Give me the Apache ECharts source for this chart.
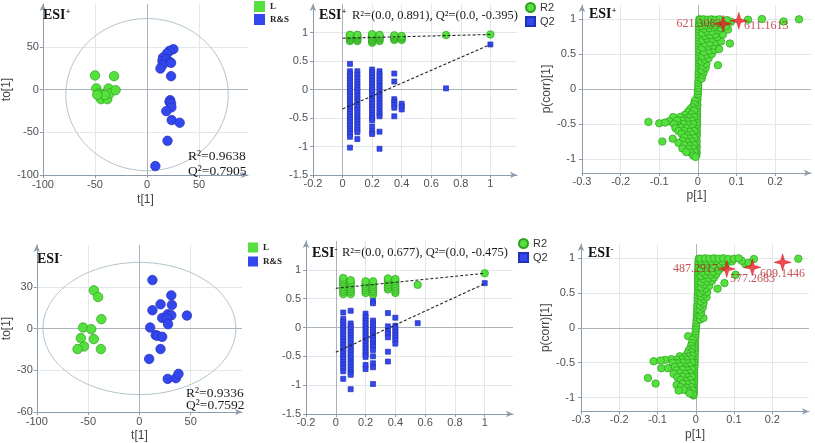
<!DOCTYPE html>
<html><head><meta charset="utf-8">
<script src="https://cdn.jsdelivr.net/npm/echarts@6/dist/echarts.min.js"></script>
<style>html,body{margin:0;padding:0;background:#fff}#c{width:815px;height:443px}</style>
</head><body><div id="c"></div>
<script>
// ---------------- DATA ----------------
// Panel A: OPLS-DA scores ESI+
const scoresPosL = [[-49.9,16.4],[-31.7,15.6],[-48.7,1.2],[-46.8,-4.7],[-43.1,-5.8],[-44.1,-11.3],[-38.2,-11.3],[-37,1.2],[-36,-4.7],[-30.2,-0.8],[-40.5,-6.5],[-47.8,-6.2]];
const scoresPosRS = [[25.3,47.1],[21.6,45.2],[19.1,42],[15.4,37.4],[14.8,33.5],[18.5,35],[21.6,32.3],[23.1,31.2],[14.8,28.4],[12.9,24.5],[23.1,15.6],[22.2,-12.5],[21.6,-14.4],[23.1,-16.4],[23.4,-21],[18.5,-25.3],[23.7,-35.8],[31.4,-38.9],[19.7,-60],[8,-89.6]];
const scoresPosEllipse = [[0,-6,78,89]]; // centre x, centre y, semi-axis x, semi-axis y
const scoresPosStats = ['R\u00b2=0.9638','Q\u00b2=0.7905'];
// Panel B: permutation test ESI+
const permPosR2 = [[0.05,[0.85,0.87,0.89,0.91,0.93,0.95,0.96]],[0.1,[0.85,0.87,0.89,0.91,0.93,0.95,0.96]],[0.2,[0.82,0.85,0.87,0.89,0.91,0.93,0.95,0.97]],[0.25,[0.85,0.88,0.9,0.92,0.94,0.96]],[0.35,[0.87,0.89,0.91,0.93,0.95]],[0.4,[0.87,0.9,0.92,0.94]],[0.7,[0.955]],[1,[0.965]]];
const permPosQ2 = [[0.05,[0.45,0.32,0.27,0.22,0.17,0.12,0.07,0.02,-0.03,-0.08,-0.13,-0.18,-0.23,-0.28,-0.33,-0.38,-0.43,-0.48,-0.53,-0.58,-0.63,-0.68,-0.73,-0.78,-0.83,-1.02]],[0.1,[0.32,0.26,0.2,0.14,0.09,0.04,-0.01,-0.06,-0.11,-0.16,-0.21,-0.26,-0.31,-0.36,-0.41,-0.46,-0.51,-0.56,-0.61,-0.66,-0.71,-0.75,-0.87]],[0.2,[0.35,0.3,0.25,0.2,0.15,0.1,0.05,0,-0.05,-0.1,-0.15,-0.2,-0.25,-0.3,-0.35,-0.4,-0.45,-0.5,-0.54,-0.65,-0.74,-0.78]],[0.25,[0.32,0.27,0.22,0.17,0.12,0.07,0.02,-0.03,-0.08,-0.13,-0.18,-0.23,-0.28,-0.33,-0.38,-0.43,-0.47,-0.74,-1.04]],[0.35,[0.28,0.14,-0.17,-0.22,-0.27,-0.32,-0.47]],[0.4,[-0.25,-0.3,-0.35]],[0.7,[0.02]],[1,[0.79]]];
const permPosR2Fit = [[0,0.9],[1,0.965]];
const permPosQ2Fit = [[0,-0.34],[1,0.79]];
const permPosText = 'R\u00b2=(0.0, 0.891), Q\u00b2=(0.0, -0.395)';
// Panel C: S-plot ESI+
const splotPos = [[-0.004,-0.95],[-0.003,-0.91],[-0.004,-0.87],[-0.003,-0.83],[-0.004,-0.79],[-0.003,-0.75],[-0.004,-0.71],[-0.003,-0.67],[-0.003,-0.63],[-0.003,-0.59],[-0.003,-0.55],[-0.002,-0.51],[-0.002,-0.47],[-0.003,-0.43],[-0.002,-0.39],[-0.002,-0.35],[-0.002,-0.31],[-0.002,-0.27],[-0.001,-0.23],[-0.002,-0.19],[-0.001,-0.15],[-0.001,-0.11],[0,-0.07],[0,-0.03],[0.001,0.01],[0.001,0.05],[0.001,0.09],[0.002,0.13],[0.002,0.17],[0.002,0.21],[0.002,0.25],[0.003,0.29],[0.003,0.33],[0.003,0.37],[0.003,0.41],[0.003,0.45],[0.003,0.49],[0.003,0.53],[0.003,0.57],[0.003,0.61],[0.003,0.65],[0.003,0.69],[0.003,0.73],[0.003,0.77],[0.003,0.81],[0.003,0.85],[0.003,0.89],[0.003,0.93],[0.004,0.97],[0.004,0.995],
[0.01,0.15],[0.012,0.2],[0.015,0.24],[0.01,0.27],[0.02,0.3],[0.012,0.33],[0.022,0.36],[0.052,0.34],[0.01,0.39],[0.018,0.42],[0.028,0.44],[0.012,0.47],[0.024,0.49],[0.036,0.5],[0.016,0.53],[0.03,0.55],[0.044,0.56],[0.055,0.57],[0.012,0.59],[0.026,0.61],[0.04,0.62],[0.018,0.65],[0.032,0.66],[0.047,0.67],[0.06,0.68],[0.083,0.65],[0.012,0.7],[0.024,0.72],[0.038,0.72],[0.05,0.74],[0.018,0.76],[0.032,0.77],[0.045,0.78],[0.065,0.78],[0.012,0.8],[0.024,0.82],[0.037,0.82],[0.052,0.84],[0.016,0.86],[0.03,0.87],[0.043,0.88],[0.058,0.87],[0.078,0.85],[0.01,0.9],[0.021,0.91],[0.033,0.92],[0.046,0.91],[0.06,0.93],[0.072,0.9],[0.008,0.95],[0.018,0.96],[0.03,0.95],[0.041,0.97],[0.052,0.96],[0.086,0.96],[0.006,0.99],[0.015,0.995],[0.025,0.99],[0.035,0.995],[0.045,0.99],[0.056,0.995],[0.075,0.985],[0.13,0.99],[0.166,1.0],[0.222,0.965],[0.262,0.995],
[-0.008,-0.17],[-0.01,-0.22],[-0.014,-0.26],[-0.02,-0.29],[-0.01,-0.31],[-0.026,-0.33],[-0.016,-0.36],[-0.034,-0.37],[-0.01,-0.4],[-0.022,-0.41],[-0.036,-0.42],[-0.046,-0.4],[-0.064,-0.4],[-0.015,-0.45],[-0.028,-0.46],[-0.04,-0.45],[-0.054,-0.45],[-0.074,-0.46],[-0.128,-0.47],[-0.1,-0.49],[-0.085,-0.48],[-0.012,-0.5],[-0.025,-0.51],[-0.038,-0.5],[-0.05,-0.52],[-0.062,-0.5],[-0.015,-0.55],[-0.03,-0.56],[-0.045,-0.55],[-0.058,-0.56],[-0.01,-0.6],[-0.022,-0.61],[-0.036,-0.6],[-0.05,-0.6],[-0.015,-0.65],[-0.03,-0.66],[-0.042,-0.64],[-0.01,-0.7],[-0.022,-0.71],[-0.035,-0.69],[-0.065,-0.71],[-0.015,-0.75],[-0.028,-0.76],[-0.04,-0.74],[-0.092,-0.75],[-0.05,-0.77],[-0.01,-0.8],[-0.022,-0.81],[-0.035,-0.8],[-0.012,-0.85],[-0.025,-0.86],[-0.04,-0.85],[-0.008,-0.9],[-0.018,-0.91],[-0.03,-0.9],[-0.012,-0.95],[-0.006,-0.97]];
const markersPos = [[0.0655,0.933],[0.106,0.976]];
const markersPosNames = ['621.3083','611.1613'];
// Panel D: OPLS-DA scores ESI-
const scoresNegL = [[-44.4,27.4],[-40.3,22.6],[-37.1,6.7],[-54.9,0.7],[-47,-0.5],[-57.1,-6.9],[-44.4,-7.6],[-54,-12.9],[-60.3,-14.8],[-37.5,-14.8]];
const scoresNegRS = [[12.7,34.8],[31.1,23.8],[20.6,17.4],[31.7,16.9],[12.7,13.1],[27.6,10.2],[31.1,9.5],[22.2,7.6],[27,7.1],[46.3,9.3],[27.9,3.1],[10.5,0.7],[15.9,-4.8],[17.5,-5.2],[22.2,-6],[20.6,-14.8],[9.5,-21.9],[27.6,-36.2],[35.6,-35.7],[38.1,-32.6]];
const scoresNegEllipse = [[0,0,94,47.5]];
const scoresNegStats = ['R\u00b2=0.9336','Q\u00b2=0.7592'];
// Panel E: permutation test ESI-
const permNegR2 = [[0.05,[0.58,0.62,0.66,0.7,0.74,0.78,0.82,0.86]],[0.1,[0.58,0.62,0.66,0.7,0.74,0.78,0.82]],[0.2,[0.6,0.64,0.68,0.72,0.76,0.8]],[0.25,[0.57,0.62,0.66,0.7,0.74,0.78,0.8]],[0.35,[0.66,0.7,0.74,0.78,0.82,0.85]],[0.4,[0.6,0.64,0.68,0.72,0.76,0.8,0.84]],[0.55,[0.74]],[1,[0.94]]];
const permNegQ2 = [[0.05,[0.26,0.15,0.1,0.05,0,-0.05,-0.1,-0.15,-0.2,-0.25,-0.3,-0.35,-0.4,-0.45,-0.5,-0.55,-0.6,-0.65,-0.7,-0.76,-0.89]],[0.1,[0.29,0.07,0.02,-0.03,-0.08,-0.13,-0.18,-0.23,-0.28,-0.33,-0.38,-0.43,-0.48,-0.53,-0.58,-0.63,-0.68,-0.73,-0.78,-0.82,-1.07]],[0.2,[0.24,0.18,0.13,0.08,0.03,-0.02,-0.07,-0.12,-0.17,-0.22,-0.27,-0.32,-0.37,-0.42,-0.47,-0.51,-0.65,-0.72]],[0.25,[0.46,0.42,0.12,0.07,0.02,-0.03,-0.08,-0.13,-0.18,-0.23,-0.28,-0.33,-0.39,-0.5,-0.62,-0.69,-0.98]],[0.35,[0.25,0.02,-0.06,-0.11,-0.17,-0.42,-0.59]],[0.4,[0.17,0.03,-0.02,-0.07,-0.12,-0.17,-0.22,-0.28]],[0.55,[0.075]],[1,[0.77]]];
const permNegR2Fit = [[0,0.68],[1,0.94]];
const permNegQ2Fit = [[0,-0.43],[1,0.76]];
const permNegText = 'R\u00b2=(0.0, 0.677), Q\u00b2=(0.0, -0.475)';
// Panel F: S-plot ESI-
const splotNeg = [[-0.006,-0.97],[-0.005,-0.93],[-0.005,-0.89],[-0.005,-0.85],[-0.005,-0.81],[-0.004,-0.77],[-0.004,-0.73],[-0.004,-0.69],[-0.004,-0.65],[-0.004,-0.61],[-0.004,-0.57],[-0.003,-0.53],[-0.003,-0.49],[-0.003,-0.45],[-0.003,-0.41],[-0.003,-0.37],[-0.002,-0.33],[-0.002,-0.29],[-0.002,-0.25],[-0.002,-0.21],[-0.002,-0.17],[-0.001,-0.13],[-0.001,-0.09],[0,-0.05],[0,-0.01],[0.001,0.03],[0.002,0.07],[0.002,0.11],[0.003,0.15],[0.003,0.19],[0.004,0.23],[0.004,0.27],[0.004,0.31],[0.005,0.35],[0.005,0.39],[0.005,0.43],[0.005,0.47],[0.006,0.51],[0.006,0.55],[0.006,0.59],[0.006,0.63],[0.006,0.67],[0.006,0.71],[0.006,0.75],[0.006,0.79],[0.006,0.83],[0.007,0.87],[0.007,0.91],[0.007,0.95],[0.008,0.99],
[0.012,0.12],[0.02,0.14],[0.01,0.18],[0.014,0.22],[0.012,0.26],[0.018,0.29],[0.012,0.32],[0.02,0.35],[0.013,0.38],[0.022,0.41],[0.028,0.44],[0.014,0.45],[0.022,0.48],[0.012,0.5],[0.03,0.51],[0.018,0.53],[0.026,0.56],[0.057,0.56],[0.014,0.58],[0.035,0.6],[0.022,0.62],[0.014,0.65],[0.03,0.66],[0.042,0.67],[0.075,0.64],[0.02,0.7],[0.034,0.71],[0.048,0.72],[0.014,0.74],[0.026,0.76],[0.04,0.76],[0.054,0.77],[0.104,0.76],[0.018,0.8],[0.032,0.81],[0.045,0.8],[0.06,0.82],[0.014,0.85],[0.026,0.86],[0.04,0.85],[0.055,0.87],[0.068,0.86],[0.018,0.9],[0.032,0.91],[0.047,0.9],[0.062,0.92],[0.078,0.9],[0.13,0.91],[0.138,0.93],[0.014,0.95],[0.026,0.96],[0.04,0.95],[0.054,0.96],[0.07,0.95],[0.094,0.95],[0.12,0.96],[0.012,0.99],[0.024,0.995],[0.036,0.99],[0.048,0.995],[0.06,0.99],[0.072,0.995],[0.085,0.985],[0.1,0.99],[0.112,0.995],[0.152,0.985],[0.268,0.99],
[-0.02,-0.12],[-0.008,-0.17],[-0.01,-0.22],[-0.012,-0.26],[-0.01,-0.3],[-0.018,-0.32],[-0.012,-0.35],[-0.022,-0.37],[-0.01,-0.4],[-0.02,-0.41],[-0.03,-0.42],[-0.042,-0.41],[-0.012,-0.45],[-0.025,-0.46],[-0.038,-0.45],[-0.05,-0.46],[-0.064,-0.45],[-0.08,-0.46],[-0.11,-0.48],[-0.092,-0.47],[-0.01,-0.5],[-0.022,-0.51],[-0.035,-0.5],[-0.048,-0.51],[-0.06,-0.5],[-0.015,-0.55],[-0.028,-0.56],[-0.04,-0.55],[-0.055,-0.56],[-0.09,-0.58],[-0.073,-0.58],[-0.01,-0.6],[-0.022,-0.61],[-0.035,-0.6],[-0.05,-0.61],[-0.015,-0.65],[-0.028,-0.66],[-0.042,-0.65],[-0.058,-0.66],[-0.01,-0.7],[-0.022,-0.71],[-0.035,-0.7],[-0.048,-0.71],[-0.125,-0.72],[-0.015,-0.75],[-0.028,-0.76],[-0.04,-0.75],[-0.01,-0.8],[-0.022,-0.81],[-0.035,-0.8],[-0.05,-0.82],[-0.105,-0.8],[-0.012,-0.85],[-0.025,-0.86],[-0.04,-0.85],[-0.008,-0.9],[-0.02,-0.91],[-0.032,-0.89],[-0.045,-0.9],[-0.008,-0.95],[-0.016,-0.94]];
const markersNeg = [[0.081,0.843],[0.148,0.867],[0.227,0.938]];
const markersNegNames = ['487.2917','577.2683','609.1446'];
const groupNames = ['L','R&S'];
const permNames = ['R2','Q2'];
// axis ranges: [min, max, step]
const scoresPosX = [-100,97,50], scoresPosY = [-100,100,50];
const permX = [-0.2,1.18,0.2], permY = [-1.5,1.5,0.5];
const splotX = [-0.3,0.293,0.1], splotY = [-1.2,1.2,0.5];
const scoresNegX = [-100,100,50], scoresNegY = [-60,60,30];
const permNegX = [-0.2,1.19,0.2];
const splotNegX = [-0.3,0.296,0.1];

// ---------------- BUILD ----------------
const SANS = 'Liberation Sans, Arial, sans-serif';
const SERIF = 'Liberation Serif, Times New Roman, serif';
const AXC = '#8d9cab';
const GREEN = '#55e13d', GREEN_B = '#2f9f22';
const BLUE = '#3447ef', BLUE_B = '#2232b5';
const STAR = 'path://M0,-10L2.3,-2.3L10,0L2.3,2.3L0,10L-2.3,2.3L-10,0L-2.3,-2.3Z';

const flat = cols => { const out=[]; cols.forEach(c => c[1].forEach(v => out.push([c[0], v]))); return out; };

function axis(gi, r, extra, lblMargin) {
  const [min,max,step] = r;
  const onStep = v => Math.abs(v/step - Math.round(v/step)) < 1e-6;
  return Object.assign({
    type:'value', gridIndex:gi, min, max, minInterval:step, maxInterval:step,
    axisLine:{show:true,onZero:false,symbol:['none','arrow'],symbolSize:[5,7],lineStyle:{color:AXC,width:1}},
    axisTick:{show:true,length:3,lineStyle:{color:AXC}},
    axisLabel:{interval:0,margin:lblMargin,color:'#505050',fontSize:11,fontFamily:SANS,showMinLabel:onStep(min),showMaxLabel:false},
    splitLine:{show:true,showMinLine:false,showMaxLine:false,lineStyle:{color:'#e4e7ea',width:1}},
    nameLocation:'middle',
    nameTextStyle:{color:'#444',fontSize:12,fontFamily:SANS}
  }, extra||{});
}

const zeroLines = {silent:true,symbol:['none','none'],z:1,label:{show:false},
  lineStyle:{color:'#aab2ba',width:1,type:'solid'},emphasis:{disabled:true},
  data:[{xAxis:0},{yAxis:0}]};

function ellipseSeries(gi, data) {
  return {type:'custom', xAxisIndex:gi, yAxisIndex:gi, data, silent:true, z:1,
    encode:{x:0,y:1},
    renderItem(params, api) {
      const c = api.coord([api.value(0), api.value(1)]);
      const s = api.size([api.value(2), api.value(3)]);
      const pts = [];
      for (let i=0;i<=120;i++){ const a=i/120*2*Math.PI; pts.push([c[0]+s[0]*Math.cos(a), c[1]+s[1]*Math.sin(a)]); }
      return {type:'polyline', shape:{points:pts}, style:{stroke:'#b3c4cc', fill:null, lineWidth:1}};
    },
    markLine: zeroLines};
}
function pts(gi, name, data, sym, size, col, bcol, z) {
  return {type:'scatter', name, xAxisIndex:gi, yAxisIndex:gi, data, symbol:sym, symbolSize:size,
    itemStyle:{color:col,borderColor:bcol,borderWidth:0.7,opacity:1}, z:z||3, emphasis:{disabled:true}};
}
function fit(gi, data) {
  return {type:'line', name:'fit', xAxisIndex:gi, yAxisIndex:gi, data, symbol:'none', silent:true, z:4,
    lineStyle:{color:'#222',width:1.1,type:[3,2]}};
}
function stars(gi, data, names, labelCfg) {
  return {type:'scatter', name:'sel', xAxisIndex:gi, yAxisIndex:gi, symbol:STAR, symbolSize:17, z:6,
    itemStyle:{color:'#ec1c24',borderColor:'#c81018',borderWidth:0.5},
    data: data.map((d,i)=>({value:d, name:names[i], label:Object.assign({show:true, formatter:'{b}', color:'#b3272c', fontFamily:SERIF, fontSize:12}, labelCfg[i])}))};
}
function esi(sign) { return '{a|ESI}{s|' + sign + '}'; }
function txt(x, y, text, size, extra) {
  return {type:'text', x, y, silent:true, z:100, style:Object.assign({text, fill:'#1a1a1a', font:(size||13)+'px '+SERIF, verticalAlign:'middle'}, extra||{})};
}
function title(x, y, sign) {
  return {type:'text', x, y, silent:true, z:100, style:{text:esi(sign), rich:{a:{fontFamily:SERIF,fontWeight:'bold',fontSize:14,fill:'#111',lineHeight:16},s:{fontFamily:SERIF,fontWeight:'bold',fontSize:9,fill:'#111',lineHeight:9,verticalAlign:'top'}}, verticalAlign:'middle'}};
}

const legendSq = (left, top, ih, gap) => ({left, top, orient:'vertical', data:groupNames, icon:'rect', itemWidth:ih, itemHeight:ih, itemGap:gap, selectedMode:false, padding:0,
  itemStyle:{borderWidth:0},
  textStyle:{fontFamily:SERIF, fontWeight:'bold', fontSize:9, color:'#222', lineHeight:11}});
const legendPerm = (left, top) => ({left, top, orient:'vertical', data:permNames, itemWidth:9, itemHeight:9, itemGap:1, selectedMode:false, padding:0,
  textStyle:{fontFamily:SANS, fontSize:11, color:'#333', lineHeight:13}});

const option = {
  animation:false,
  backgroundColor:'#ffffff',
  grid:[
    {left:35, top:4, width:213, height:171},
    {left:313, top:4, width:204, height:171},
    {left:582, top:5, width:229, height:168},
    {left:32, top:245, width:210, height:168},
    {left:306, top:241, width:207, height:173},
    {left:581, top:244, width:228, height:167.5}
  ],
  xAxis:[
    axis(0, scoresPosX, {name:'t[1]', nameGap:19}, 4),
    axis(1, permX, {}, 3),
    axis(2, splotX, {name:'p[1]', nameGap:17}, 3),
    axis(3, scoresNegX, {name:'t[1]', nameGap:18}, 4),
    axis(4, permNegX, {}, 3),
    axis(5, splotNegX, {name:'p[1]', nameGap:17}, 3)
  ],
  yAxis:[
    axis(0, scoresPosY, {name:'to[1]', nameGap:22}, 4),
    axis(1, permY, {}, 5),
    axis(2, splotY, {name:'p(corr)[1]', nameGap:21}, 6),
    axis(3, scoresNegY, {name:'to[1]', nameGap:19}, 4),
    axis(4, permY, {}, 5),
    axis(5, splotY, {name:'p(corr)[1]', nameGap:22}, 6)
  ],
  legend:[
    legendSq(254, 1, 11, 2),
    legendPerm(525, 1),
    legendSq(248, 242, 10, 3),
    legendPerm(518, 237)
  ],
  series:[
    ellipseSeries(0, scoresPosEllipse),
    pts(0, groupNames[0], scoresPosL, 'circle', 9.5, GREEN, GREEN_B),
    pts(0, groupNames[1], scoresPosRS, 'circle', 9.5, BLUE, BLUE_B),
    Object.assign(fit(1, permPosR2Fit), {markLine: zeroLines}),
    fit(1, permPosQ2Fit),
    pts(1, permNames[0], flat(permPosR2), 'circle', 7.5, GREEN, GREEN_B),
    pts(1, permNames[1], flat(permPosQ2), 'rect', 5, BLUE, BLUE_B),
    Object.assign(pts(2, 'loadPos', splotPos, 'circle', 7.5, GREEN, GREEN_B), {markLine: zeroLines}),
    stars(2, markersPos, markersPosNames, [{position:'left', distance:-7}, {position:[14,8]}]),
    ellipseSeries(3, scoresNegEllipse),
    pts(3, groupNames[0], scoresNegL, 'circle', 9.5, GREEN, GREEN_B),
    pts(3, groupNames[1], scoresNegRS, 'circle', 9.5, BLUE, BLUE_B),
    Object.assign(fit(4, permNegR2Fit), {markLine: zeroLines}),
    fit(4, permNegQ2Fit),
    pts(4, permNames[0], flat(permNegR2), 'circle', 7.5, GREEN, GREEN_B),
    pts(4, permNames[1], flat(permNegQ2), 'rect', 5, BLUE, BLUE_B),
    Object.assign(pts(5, 'loadNeg', splotNeg, 'circle', 7.5, GREEN, GREEN_B), {markLine: zeroLines}),
    stars(5, markersNeg, markersNegNames, [{position:'left', distance:0}, {position:'bottom', distance:-3}, {position:'bottom', distance:-3}])
  ],
  graphic:[
    title(43, 15, '+'), title(319, 15, '+'), title(589, 14, '+'),
    title(37, 259, '-'), title(312, 253, '-'), title(588, 253, '-'),
    txt(188, 156, scoresPosStats[0], 13.5), txt(188, 171, scoresPosStats[1], 13.5),
    txt(186, 393, scoresNegStats[0], 13.5), txt(186, 405, scoresNegStats[1], 13.5),
    txt(352, 16, permPosText, 12.5), txt(342, 253, permNegText, 12.5)
  ]
};
const chart = echarts.init(document.getElementById('c'), null, {renderer:'canvas'});
chart.setOption(option);
</script></body></html>
